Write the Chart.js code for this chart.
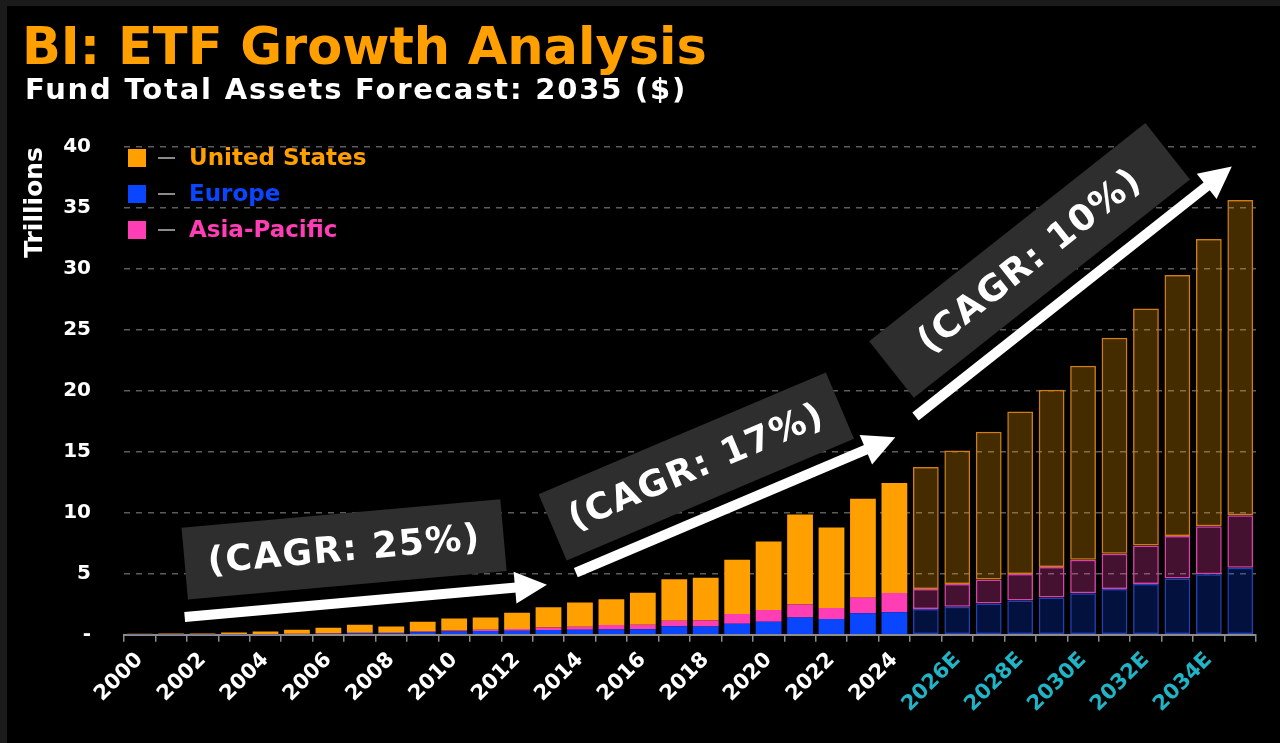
<!DOCTYPE html>
<html>
<head>
<meta charset="utf-8">
<script src="https://cdn.jsdelivr.net/npm/chart.js@4.4.1/dist/chart.umd.min.js"></script>
<style>
  html, body { margin: 0; padding: 0; background: #1b1b1b; overflow: hidden; }
  #wrap { position: absolute; left: 0; top: 0; width: 1280px; height: 743px; }
</style>
</head>
<body>
<div id="wrap"><canvas id="chart" width="1280" height="743"></canvas></div>
<script>
// categories
var years = ['2000','2001','2002','2003','2004','2005','2006','2007','2008','2009',
  '2010','2011','2012','2013','2014','2015','2016','2017','2018','2019',
  '2020','2021','2022','2023','2024',
  '2025E','2026E','2027E','2028E','2029E','2030E','2031E','2032E','2033E','2034E','2035E'];

// fund total assets, trillions of $
var europe = [0.01,0.01,0.015,0.02,0.03,0.05,0.08,0.12,0.12,0.2,
  0.27,0.3,0.33,0.38,0.4,0.42,0.45,0.7,0.68,0.9,
  1.07,1.42,1.28,1.75,1.85,
  2.1,2.3,2.55,2.8,3.05,3.4,3.75,4.15,4.6,4.95,5.5];
var asiaPacific = [0.005,0.005,0.01,0.01,0.02,0.03,0.04,0.05,0.05,0.06,
  0.08,0.1,0.14,0.22,0.25,0.38,0.37,0.45,0.48,0.8,
  0.95,1.06,0.92,1.28,1.57,
  1.65,1.85,1.97,2.18,2.5,2.75,2.9,3.17,3.5,3.95,4.3];
var unitedStates = [0.065,0.075,0.075,0.15,0.22,0.32,0.45,0.65,0.51,0.81,
  0.98,1.02,1.33,1.65,2.0,2.1,2.63,3.4,3.52,4.45,
  5.63,7.37,6.6,8.12,9.03,
  10.0,10.95,12.13,13.32,14.55,15.9,17.7,19.43,21.4,23.55,25.85];

var yTickValues = [0,5,10,15,20,25,30,35,40];

// CAGR call-outs, anchored in axis units: [category index, trillions]
var cagrText = ['(CAGR: 25%)', '(CAGR: 17%)', '(CAGR: 10%)'];
var arrowTail = [[1.43, 1.45], [13.87, 5.1], [24.67, 17.9]];
var arrowTip  = [[12.95, 4.1], [24.03, 16.2], [34.73, 38.4]];
var boxCentre = [[6.5, 7.0], [17.7, 13.8], [28.3, 30.7]];

var FONT = '"DejaVu Sans", Verdana, sans-serif';
var solid = { us: '#ffa000', eu: '#0a46ff', ap: '#ff3db4' };
var forecastFill = { us: 'rgba(255,160,0,0.27)', eu: 'rgba(10,70,255,0.24)', ap: 'rgba(255,61,180,0.27)' };
var forecastEdge = { us: '#d07e14', eu: '#2040b4', ap: '#d644a6' };

function isForecast(i) { return years[i].slice(-1) === 'E'; }

function makeSet(label, data, key) {
  return {
    label: label,
    data: data,
    legendKey: key,
    backgroundColor: function(c) { return isForecast(c.dataIndex) ? forecastFill[key] : solid[key]; },
    borderColor: function(c) { return isForecast(c.dataIndex) ? forecastEdge[key] : solid[key]; },
    borderWidth: function(c) { return isForecast(c.dataIndex) ? 1.5 : 0; },
    borderSkipped: false,
    categoryPercentage: 1,
    barPercentage: 0.82
  };
}

var framePlugin = {
  id: 'frame',
  beforeDraw: function(chart) {
    var ctx = chart.ctx;
    ctx.save();
    ctx.fillStyle = '#1b1b1b';
    ctx.fillRect(0, 0, chart.width, chart.height);
    ctx.fillStyle = '#000';
    ctx.fillRect(7, 6, chart.width - 7, chart.height - 6);
    ctx.textBaseline = 'alphabetic';
    ctx.fillStyle = '#ffa000';
    ctx.font = 'bold 51px ' + FONT;
    ctx.fillText('BI: ETF Growth Analysis', 22, 64);
    ctx.fillStyle = '#ffffff';
    ctx.font = 'bold 29px ' + FONT;
    ctx.letterSpacing = '1.8px';
    ctx.fillText('Fund Total Assets Forecast: 2035 ($)', 25, 99);
    ctx.restore();
  }
};

var legendPlugin = {
  id: 'sideLegend',
  afterDatasetsDraw: function(chart) {
    var ctx = chart.ctx;
    var area = chart.chartArea;
    var order = [2, 0, 1];
    ctx.save();
    ctx.font = 'bold 23px ' + FONT;
    ctx.textBaseline = 'middle';
    order.forEach(function(di, row) {
      var ds = chart.data.datasets[di];
      var y = area.top + 11 + row * 36;
      var x = area.left + 4;
      ctx.fillStyle = solid[ds.legendKey];
      ctx.fillRect(x, y - 9, 18, 18);
      ctx.strokeStyle = '#8a8a8a';
      ctx.lineWidth = 2;
      ctx.beginPath();
      ctx.moveTo(x + 30, y);
      ctx.lineTo(x + 47, y);
      ctx.stroke();
      ctx.fillText(ds.label, x + 61, y + 1);
    });
    ctx.restore();
  }
};

var cagrPlugin = {
  id: 'cagr',
  afterDatasetsDraw: function(chart) {
    var ctx = chart.ctx;
    var sx = chart.scales.x, sy = chart.scales.y;
    function pt(p) { return [sx.getPixelForValue(p[0]), sy.getPixelForValue(p[1])]; }
    var boxW = [320, 312, 352];
    ctx.save();
    cagrText.forEach(function(txt, i) {
      var a = pt(arrowTail[i]), b = pt(arrowTip[i]), c = pt(boxCentre[i]);
      var ang = Math.atan2(b[1] - a[1], b[0] - a[0]);
      var len = Math.hypot(b[0] - a[0], b[1] - a[1]);
      // label box
      ctx.save();
      ctx.translate(c[0], c[1]);
      ctx.rotate(ang);
      ctx.fillStyle = '#2e2e2e';
      ctx.fillRect(-boxW[i] / 2, -36, boxW[i], 72);
      ctx.fillStyle = '#ffffff';
      ctx.font = 'bold 36px ' + FONT;
      ctx.textAlign = 'center';
      ctx.textBaseline = 'middle';
      ctx.letterSpacing = '1.5px';
      ctx.fillText(txt, 0, 2);
      ctx.restore();
      // arrow
      ctx.save();
      ctx.translate(a[0], a[1]);
      ctx.rotate(ang);
      ctx.fillStyle = '#ffffff';
      ctx.fillRect(0, -5, len - 28, 10);
      ctx.beginPath();
      ctx.moveTo(len, 0);
      ctx.lineTo(len - 32, -16);
      ctx.lineTo(len - 32, 16);
      ctx.closePath();
      ctx.fill();
      ctx.restore();
    });
    ctx.restore();
  }
};

var ctx = document.getElementById('chart').getContext('2d');
new Chart(ctx, {
  type: 'bar',
  data: {
    labels: years,
    datasets: [
      makeSet('Europe', europe, 'eu'),
      makeSet('Asia-Pacific', asiaPacific, 'ap'),
      makeSet('United States', unitedStates, 'us')
    ]
  },
  options: {
    responsive: false,
    animation: false,
    events: [],
    layout: { padding: { top: 147, left: 20, right: 24, bottom: 20 } },
    plugins: {
      legend: { display: false },
      tooltip: { enabled: false }
    },
    scales: {
      x: {
        stacked: true,
        afterFit: function(s) { s.paddingLeft = 0; s.paddingRight = 0; },
        grid: { drawOnChartArea: false, color: '#8c8c8c', lineWidth: 1.5, tickLength: 7, offset: true },
        border: { color: '#8c8c8c', width: 2 },
        ticks: {
          autoSkip: false,
          minRotation: 45,
          maxRotation: 45,
          padding: 6,
          font: { family: FONT, size: 21, weight: 'bold' },
          color: function(c) { return isForecast(c.index) ? '#1fb4c6' : '#ffffff'; },
          callback: function(v, i) { return i % 2 === 0 ? years[i] : ''; }
        }
      },
      y: {
        stacked: true,
        min: 0,
        max: 40,
        afterBuildTicks: function(s) { s.ticks = yTickValues.map(function(v) { return { value: v }; }); },
        afterFit: function(s) { s.width = 104; },
        grid: { color: '#5c5c5c', lineWidth: 1.5, drawTicks: false },
        border: { display: false, dash: [6, 6] },
        ticks: {
          padding: 33,
          color: '#ffffff',
          font: { family: FONT, size: 20, weight: 'bold' },
          callback: function(v) { return v === 0 ? '-' : v; }
        },
        title: {
          display: true,
          text: 'Trillions',
          align: 'end',
          color: '#ffffff',
          font: { family: FONT, size: 25, weight: 'bold' },
          padding: { top: 0, bottom: 17 }
        }
      }
    }
  },
  plugins: [framePlugin, legendPlugin, cagrPlugin]
});
</script>
</body>
</html>
